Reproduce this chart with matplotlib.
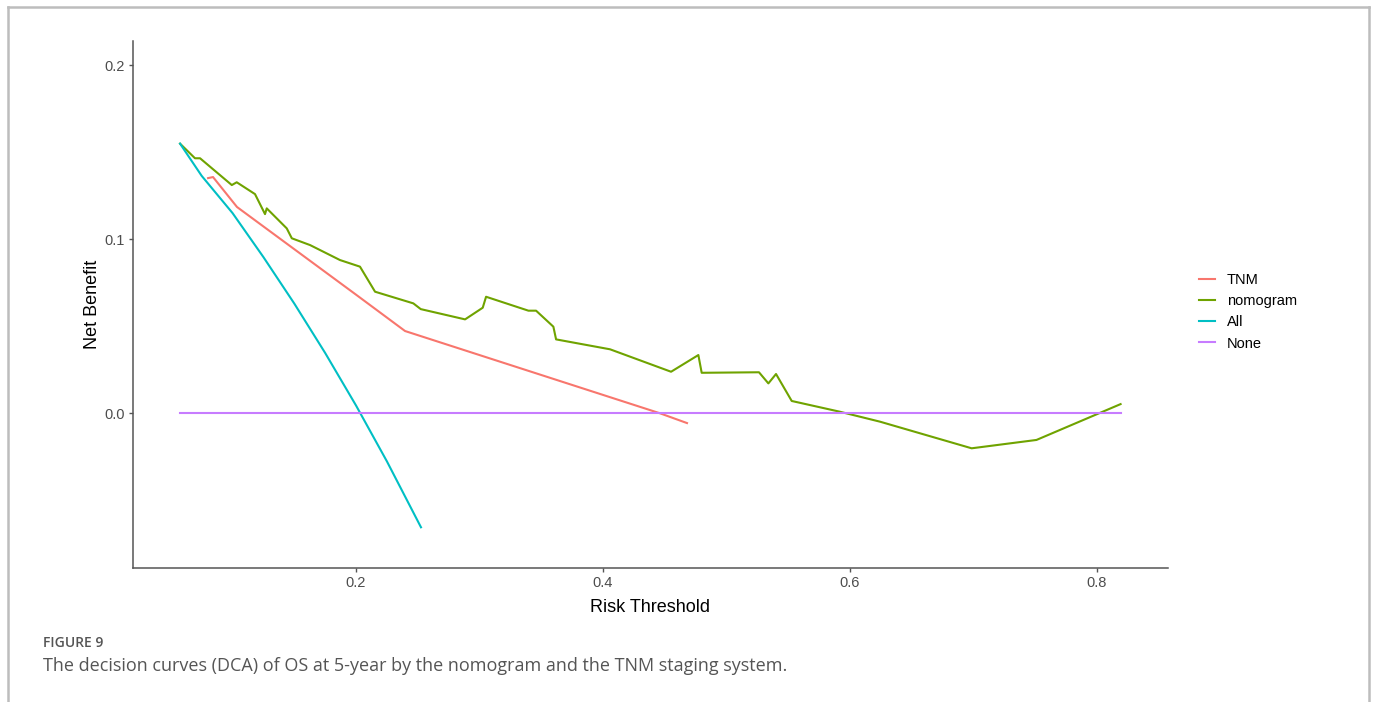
import matplotlib
matplotlib.use("Agg")
import matplotlib.pyplot as plt
from matplotlib.lines import Line2D

# Decision curve analysis, OS at 5 years
tnm_t = [0.0802, 0.0842, 0.1036, 0.2000, 0.2397, 0.4462, 0.4680]
tnm_nb = [0.1352, 0.1358, 0.1186, 0.0682, 0.0473, 0.0000, -0.0056]

nomo_t = [0.0575, 0.0696, 0.0737, 0.0994, 0.1034, 0.1182, 0.1263, 0.1277,
          0.1439, 0.1480, 0.1628, 0.1870, 0.2032, 0.2154, 0.2464, 0.2524,
          0.2883, 0.3026, 0.3053, 0.3396, 0.3458, 0.3598, 0.3620, 0.4057,
          0.4551, 0.4772, 0.4799, 0.5263, 0.5339, 0.5401, 0.5528, 0.5919,
          0.6243, 0.6985, 0.7510, 0.8191]
nomo_nb = [0.1550, 0.1466, 0.1466, 0.1312, 0.1328, 0.1260, 0.1145, 0.1178,
           0.1063, 0.1006, 0.0967, 0.0881, 0.0843, 0.0699, 0.0632, 0.0599,
           0.0540, 0.0607, 0.0670, 0.0590, 0.0590, 0.0498, 0.0425, 0.0368,
           0.0239, 0.0335, 0.0233, 0.0236, 0.0172, 0.0226, 0.0071, 0.0009,
           -0.0048, -0.0201, -0.0153, 0.0053]

all_t = [0.0575, 0.0750, 0.1000, 0.1250, 0.1500, 0.1750, 0.2000, 0.2250, 0.2526]
all_nb = [0.1550, 0.1365, 0.1151, 0.0898, 0.0631, 0.0347, 0.0045, -0.0276, -0.0655]

none_t = [0.0575, 0.8191]
none_nb = [0.0, 0.0]

labels = ["TNM", "nomogram", "All", "None"]
colors = ["#F8766D", "#6FA300", "#00BFC4", "#C77CFF"]

plt.rcParams['font.family'] = ['Liberation Sans', 'DejaVu Sans']

fig = plt.figure(figsize=(13.77, 7.02), dpi=100)
ax = fig.add_axes([133 / 1377, 1 - 568 / 702, (1168 - 133) / 1377, (568 - 41) / 702])

series = [(tnm_t, tnm_nb), (nomo_t, nomo_nb), (all_t, all_nb), (none_t, none_nb)]
for (t, nb), lab, col in zip(series, labels, colors):
    ax.plot(t, nb, color=col, lw=1.5, label=lab, solid_joinstyle='round')

ax.set_xlim(0.0194, 0.8575)
ax.set_ylim(-0.0889, 0.214)
ax.set_xticks([0.2, 0.4, 0.6, 0.8])
ax.set_xticklabels(["0.2", "0.4", "0.6", "0.8"])
ax.set_yticks([0.0, 0.1, 0.2])
ax.set_yticklabels(["0.0", "0.1", "0.2"])

for side in ["top", "right"]:
    ax.spines[side].set_visible(False)
for side in ["left", "bottom"]:
    ax.spines[side].set_color("#555555")
    ax.spines[side].set_linewidth(1.1)
ax.tick_params(axis="both", length=3, width=1.0, color="#555555",
               labelcolor="#4D4D4D", labelsize=10.5, pad=3)

ax.set_xlabel("Risk Threshold", fontsize=13, color="black", labelpad=6)
ax.set_ylabel("Net Benefit", fontsize=13, color="black", labelpad=2)

fig.legend(loc="center left", bbox_to_anchor=(1186 / 1377, 1 - 312 / 702),
           frameon=False, fontsize=10.5, handlelength=1.1, handletextpad=0.8,
           labelspacing=0.48)

# frame around the figure panel
frame_kw = dict(color="#BDBDBD", lw=1.8, transform=fig.transFigure)
fig.add_artist(Line2D([8 / 1377, 1369 / 1377], [1 - 7 / 702, 1 - 7 / 702], **frame_kw))
fig.add_artist(Line2D([8 / 1377, 8 / 1377], [0, 1 - 7 / 702], **frame_kw))
fig.add_artist(Line2D([1369 / 1377, 1369 / 1377], [0, 1 - 7 / 702], **frame_kw))

fig.text(43 / 1377, 1 - 643 / 702, "FIGURE 9", fontsize=10, color="#555555",
         family=["Open Sans", "DejaVu Sans"], fontweight="semibold", va="center")
fig.text(43 / 1377, 1 - 666 / 702,
         "The decision curves (DCA) of OS at 5-year by the nomogram and the TNM staging system.",
         fontsize=13, color="#555555", family=["Open Sans", "DejaVu Sans"], va="center")

fig.savefig("out.png", dpi=100)
